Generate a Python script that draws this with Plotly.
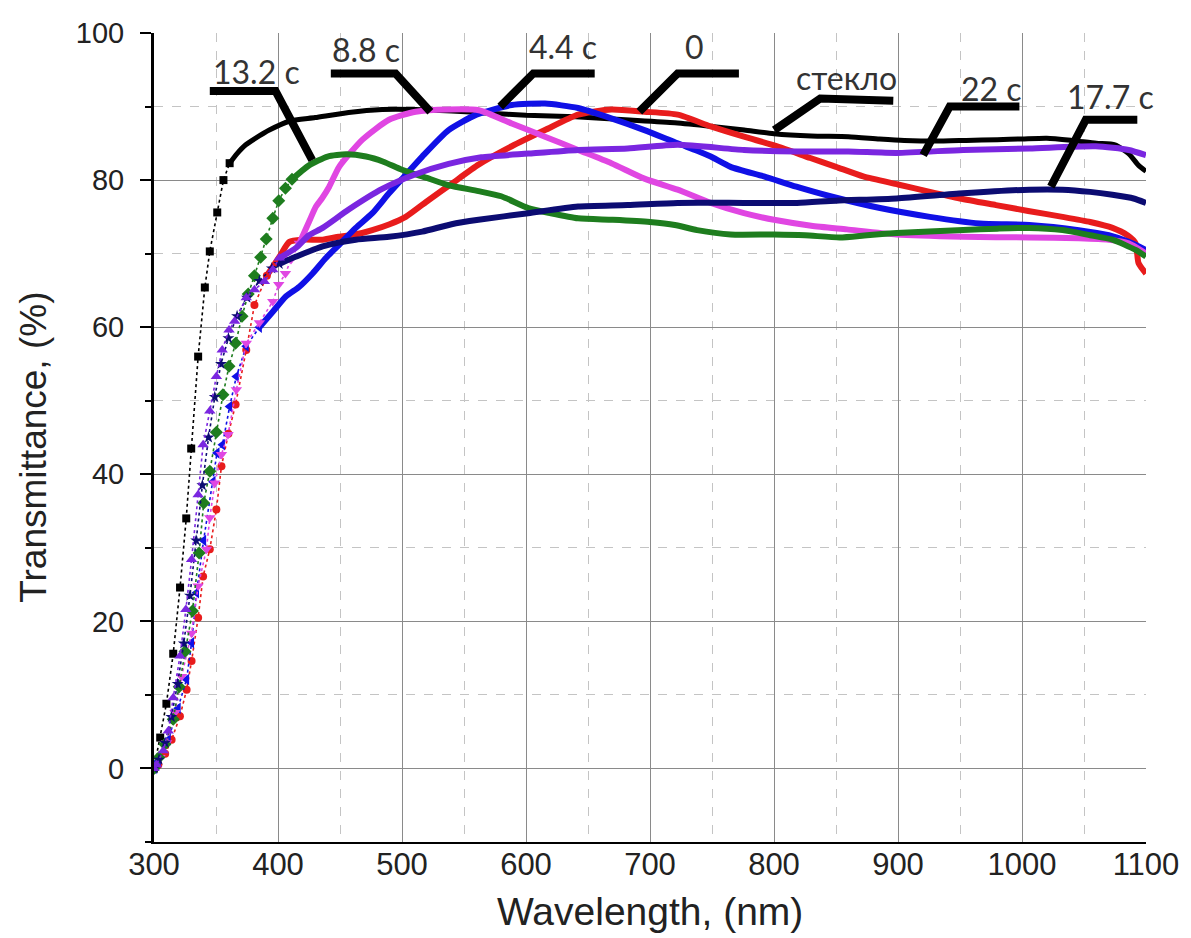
import plotly.graph_objects as go

# ---- spectra: wavelength (nm) and transmittance (%) ----
wl_glass = [300, 305, 310, 315.5, 321, 326, 330, 335.6, 341, 345, 351, 356, 361, 367, 374, 382, 393, 409, 430,
            457, 484, 511, 540, 570, 600, 640, 680, 720, 750, 776, 800, 830, 860, 885, 905, 930, 955, 980, 1000,
            1020, 1040, 1060, 1075, 1086, 1094, 1100]
t_glass = [0, 4.2, 8.8, 15.6, 24.6, 34, 43.5, 56, 65.4, 70.3, 75.6, 80, 82.3, 83.6, 84.8, 85.7, 86.8, 88, 88.5,
           89.2, 89.6, 89.6, 89.4, 89.1, 88.8, 88.6, 88.2, 87.8, 87.3, 86.8, 86.3, 86.0, 85.9, 85.6, 85.4, 85.3,
           85.4, 85.5, 85.6, 85.7, 85.4, 85.0, 84.8, 83.6, 82.0, 81.2]

wl_0 = [300, 303.5, 309, 314.2, 320.9, 326.3, 330.3, 335.6, 339.6, 345, 350.3, 354.4, 360, 365.8, 374.4, 381, 391,
        401.2, 409.2, 420, 436, 449, 462, 476, 490, 503, 521.6, 540, 561.7, 588.5, 615.3, 642, 668.8, 695.5, 722.3,
        749, 775.8, 802.6, 829.3, 850, 872, 900, 925.7, 950, 979, 1005, 1032.7, 1055, 1073, 1085, 1091.6, 1094, 1100]
t_0 = [0, 0.5, 2.0, 3.9, 7.1, 10.7, 14.6, 20.5, 26.1, 29.8, 35.2, 41.1, 45.5, 49.5, 56.9, 63, 67,
       69.6, 71.6, 71.9, 71.9, 72.3, 72.6, 73.2, 74, 75, 77.3, 79.5, 82.1, 84.6, 86.8, 88.9, 89.6, 89.3, 88.9,
       87.3, 85.9, 84.6, 83, 81.8, 80.5, 79.4, 78.4, 77.5, 76.6, 75.8, 75, 74.3, 73.5, 72.5, 71.4, 68.7, 67.3]

wl_44 = [300, 303.5, 311.5, 319.5, 326.3, 330.3, 334.3, 340, 347.6, 350.8, 355.2, 361, 366.4, 374.4, 385, 395.8,
         406.5, 417.2, 427.9, 438.6, 449.3, 462.7, 476.1, 489.5, 502.9, 516.3, 537.6, 560, 588.5, 615.3, 642,
         668.8, 695.5, 722.3, 738, 749, 765, 791.9, 818, 845.4, 885.5, 925.7, 965.8, 1005.9, 1045.8, 1070, 1086, 1100]
t_44 = [0, 1, 3.9, 8.2, 12.1, 17.1, 23.9, 31, 39, 42.9, 44, 49.2, 53.3, 57.4, 60, 62.1,
        64.2, 65.5, 67.3, 69.4, 71.2, 73.5, 75.5, 78.2, 80.7, 83.2, 86.8, 88.9, 90.2, 90.4, 89.8,
        88.4, 86.8, 85.0, 84.0, 83.2, 81.8, 80.5, 79.1, 77.8, 76.2, 75, 74.1, 73.9, 73.2, 72.5, 71.6, 70.5]

wl_88 = [300, 304.8, 310.2, 316.9, 322.2, 330.3, 335.6, 342.3, 345, 349, 354.4, 359.7, 366.4, 374.4, 385, 395.8,
         400.6, 406, 410.5, 417.2, 425.2, 430.6, 435.4, 441.3, 449.3, 468.1, 489.5, 511, 537.6, 562, 588.5, 615.3,
         642, 668.8, 695.5, 722.3, 749, 775.8, 800, 830, 858.8, 898.9, 952.5, 1005.9, 1045.8, 1070, 1086, 1100]
t_88 = [0, 1.5, 3.5, 7.6, 12.5, 18.4, 24.8, 29.8, 34.1, 38.8, 42.7, 45.4, 51.5, 57.8, 60.6, 63.5,
        65.8, 67.3, 69.2, 71.4, 74.4, 76.4, 77.5, 79.1, 81.8, 85.5, 88.2, 89.3, 89.6, 89.5, 87.7, 85.9,
        84.1, 82.3, 80.2, 78.7, 76.9, 75.5, 74.6, 73.8, 73.3, 72.6, 72.3, 72.2, 72.1, 71.9, 71.4, 70]

wl_132 = [300, 304, 308.8, 315.5, 320.3, 325, 331, 336.4, 340.1, 345, 350.3, 355.6, 360.5, 365.8, 371, 376, 381,
          386, 390.5, 395.8, 400.6, 406, 411.3, 425, 440, 455, 471, 485, 500, 520, 537.6, 561.7, 580, 601.8, 620,
          642, 670, 700, 720, 738, 765, 800, 825, 853, 875, 899, 925, 952.5, 980, 1005.9, 1032.7, 1055, 1072.9,
          1091.6, 1100]
t_132 = [0, 1.5, 3.3, 6.7, 11.1, 15.9, 21.4, 29.3, 36.1, 40.4, 45.7, 50.8, 54.7, 57.8, 61.5, 64.5, 67,
         69.5, 72, 74.8, 77.2, 78.9, 80.1, 82, 83.2, 83.5, 83.2, 82.5, 81.4, 80.3, 79.3, 78.5, 77.8, 76.2, 75.5,
         74.8, 74.6, 74.3, 73.9, 73.2, 72.6, 72.6, 72.5, 72.2, 72.5, 72.8, 73.0, 73.2, 73.4, 73.5, 73.2, 72.5,
         71.9, 70.5, 69.6]

wl_177 = [300, 304, 309, 314, 319, 324, 329, 334, 339, 344, 349, 354, 360, 367, 375, 385, 395, 401, 414.6, 436,
          462.7, 489.5, 516.3, 540, 561.7, 601.8, 642, 682, 722.3, 775.8, 818.6, 850, 898.9, 952.5, 1005.9,
          1032.7, 1055, 1072.9, 1090, 1100]
t_177 = [0, 1.2, 3.5, 7, 11.5, 17, 23.5, 31, 38.5, 45, 50.5, 55, 58.5, 61.5, 64, 66.3, 68, 68.6, 69.6, 71,
         71.9, 72.3, 73, 74, 74.6, 75.5, 76.4, 76.6, 76.9, 76.9, 76.9, 77.2, 77.5, 78.2, 78.7,
         78.7, 78.4, 78, 77.5, 76.9]

wl_22 = [300, 302, 307.5, 311.5, 315.5, 321, 325.7, 330.3, 335.6, 339.6, 345, 350.3, 355, 360.5, 365, 374.4, 381,
         389, 395.8, 401, 414.6, 425, 436, 457, 484, 511, 537.6, 564, 601.8, 642, 682, 722.3, 775.8, 818.6, 860,
         898.9, 952.5, 1005.9, 1059.5, 1086, 1100]
t_22 = [0, 0.5, 2.4, 5.1, 9.6, 15.3, 21.6, 28.4, 37.2, 44, 48.6, 53.3, 56.9, 59.6, 60.8, 64, 65.1,
        66.2, 67.8, 69.4, 70.8, 72.5, 73.5, 76, 78.8, 80.8, 82.2, 83.1, 83.6, 84.1, 84.3, 84.8, 84.1, 83.9, 83.9,
        83.7, 84.1, 84.3, 84.6, 84.1, 83.4]

# ---- leader labels: text, text anchor and polyline (wavelength, %) ----
label_text = ["13.2 с", "8.8 с", "4.4 с", "0", "стекло", "22 с", "17.7 с"]
label_pos = [(382.7, 94.7), (471, 97.7), (630, 98.1), (736, 98.1), (858.8, 94.0), (975.2, 92.5), (1071.5, 91.3)]
leader_paths = [
    [(345, 92.1), (398, 92.1), (427.6, 82.7)],
    [(442.6, 94.5), (494.8, 94.5), (522.9, 89.3)],
    [(579.2, 90.0), (605.9, 94.5), (655.4, 94.5)],
    [(691.4, 89.3), (722.3, 94.5), (771.7, 94.5)],
    [(800.2, 86.8), (837.3, 91.1), (896.2, 90.8)],
    [(920.3, 83.4), (941.7, 90.0), (997.9, 90.0)],
    [(1023.3, 79.1), (1051.4, 88.2), (1093, 88.2)],
]

series = [
    dict(name="стекло", wl=wl_glass, t=t_glass, color="#000000", symbol="square", size=8, split=365, band=5),
    dict(name="0", wl=wl_0, t=t_0, color="#e81c1c", symbol="circle", size=8, split=401, band=6),
    dict(name="4.4 с", wl=wl_44, t=t_44, color="#1010e6", symbol="triangle-left", size=10, split=385, band=6),
    dict(name="8.8 с", wl=wl_88, t=t_88, color="#e046e2", symbol="triangle-down", size=10, split=418, band=6),
    dict(name="13.2 с", wl=wl_132, t=t_132, color="#1e7d1e", symbol="diamond", size=10, split=412, band=6),
    dict(name="17.7 с", wl=wl_177, t=t_177, color="#0c0c72", symbol="star", size=9, split=401, band=6),
    dict(name="22 с", wl=wl_22, t=t_22, color="#7a26e0", symbol="triangle-up", size=10, split=401, band=6),
]

fig = go.Figure()

for s in series:
    pts = list(zip(s["wl"], s["t"]))
    steep = [p for p in pts if p[0] <= s["split"]]
    flat = [p for p in pts if p[0] >= steep[-1][0]]
    # dotted connector with discrete symbols on the absorption edge
    fig.add_trace(go.Scatter(
        x=[p[0] for p in steep], y=[p[1] for p in steep], mode="lines+markers",
        line=dict(color=s["color"], width=1.6, dash="dot"),
        marker=dict(symbol=s["symbol"], size=s["size"], color=s["color"], line=dict(width=0)),
        showlegend=False, hoverinfo="skip"))
    # densely sampled plateau drawn as a heavy trace
    fig.add_trace(go.Scatter(
        x=[p[0] for p in flat], y=[p[1] for p in flat], mode="lines",
        line=dict(color=s["color"], width=s["band"], shape="spline", smoothing=0.6),
        showlegend=False, name=s["name"]))

for path in leader_paths:
    d = "M " + " L ".join(f"{x},{y}" for x, y in path)
    fig.add_shape(type="path", path=d, xref="x", yref="y",
                  line=dict(color="black", width=8), layer="above")

for txt, (x, y) in zip(label_text, label_pos):
    fig.add_annotation(x=x, y=y, xref="x", yref="y", text=txt, showarrow=False,
                       font=dict(family="Lato", size=32, color="#333333"),
                       xanchor="center", yanchor="middle")

fig.update_xaxes(
    range=[300, 1100], tick0=300, dtick=100, showgrid=True, gridcolor="#8a8a8a", gridwidth=1,
    minor=dict(dtick=50, showgrid=True, gridcolor="#c4c4c4", griddash="dash", gridwidth=1, ticks=""),
    showline=True, linecolor="black", linewidth=2, ticks="", zeroline=False,
    tickfont=dict(family="Liberation Sans, Arial", size=31, color="#222222"), ticklabelstandoff=-6)
fig.update_yaxes(
    range=[-10, 100], tick0=0, dtick=20, showgrid=True, gridcolor="#8a8a8a", gridwidth=1,
    minor=dict(dtick=10, showgrid=True, gridcolor="#c4c4c4", griddash="dash", gridwidth=1,
               ticks="outside", ticklen=6, tickwidth=2, tickcolor="black"),
    showline=True, linecolor="black", linewidth=3, ticks="outside", ticklen=11, tickwidth=2,
    tickcolor="black", zeroline=False,
    tickfont=dict(family="Liberation Sans, Arial", size=29, color="#222222"), ticklabelstandoff=10)

fig.add_annotation(x=0.5, y=-0.0853, xref="paper", yref="paper", xanchor="center", yanchor="middle",
                   text="Wavelength, (nm)", showarrow=False,
                   font=dict(family="Liberation Sans, Arial", size=39, color="#222222"))
fig.add_annotation(x=-0.1215, y=0.488, xref="paper", yref="paper", xanchor="center", yanchor="middle",
                   textangle=-90, text="Transmittance, (%)", showarrow=False,
                   font=dict(family="Liberation Sans, Arial", size=37, color="#222222"))

fig.update_layout(
    width=1191, height=938, margin=dict(l=154, r=41, t=33, b=96),
    paper_bgcolor="white", plot_bgcolor="white", showlegend=False)

fig.write_html("out.html")
